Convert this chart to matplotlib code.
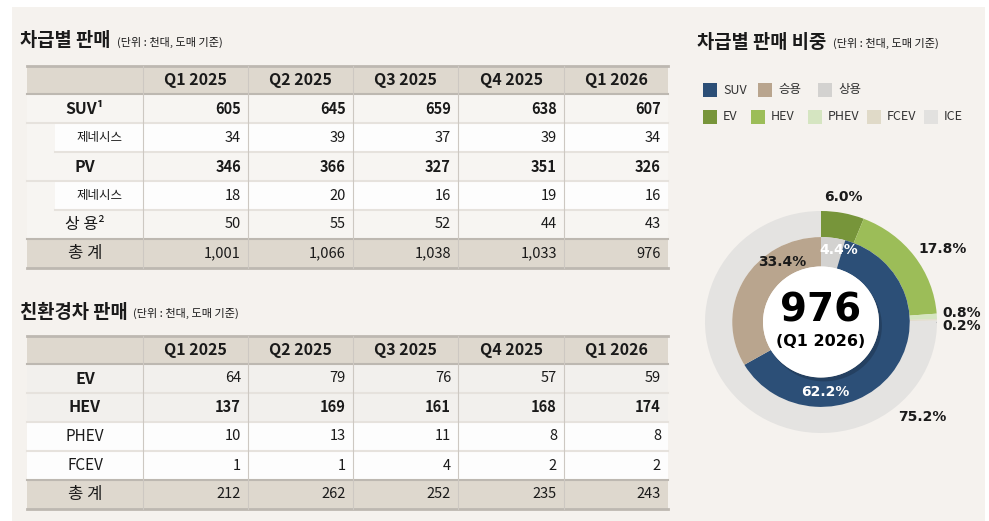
import matplotlib
matplotlib.use("Agg")
import matplotlib.pyplot as plt
from matplotlib.patches import Rectangle, Ellipse

plt.rcParams['font.family'] = ['Noto Sans CJK KR', 'DejaVu Sans']

# --- data ---
quarters = ["Q1 2025", "Q2 2025", "Q3 2025", "Q4 2025", "Q1 2026"]

seg_labels = ["SUV¹", "제네시스", "PV", "제네시스", "상 용²", "총 계"]
seg_suv = [605, 645, 659, 638, 607]
seg_suv_genesis = [34, 39, 37, 39, 34]
seg_pv = [346, 366, 327, 351, 326]
seg_pv_genesis = [18, 20, 16, 19, 16]
seg_cv = [50, 55, 52, 44, 43]
seg_total = [1001, 1066, 1038, 1033, 976]

eco_labels = ["EV", "HEV", "PHEV", "FCEV", "총 계"]
eco_ev = [64, 79, 76, 57, 59]
eco_hev = [137, 169, 161, 168, 174]
eco_phev = [10, 13, 11, 8, 8]
eco_fcev = [1, 1, 4, 2, 2]
eco_total = [212, 262, 252, 235, 243]

inner_labels = ["상용", "SUV", "승용"]
inner_share = [4.4, 62.2, 33.4]
outer_labels = ["EV", "HEV", "PHEV", "FCEV", "ICE"]
outer_share = [6.0, 17.8, 0.8, 0.2, 75.2]
center_value = "976"
center_period = "(Q1 2026)"

# --- styles ---
BG = "#f5f2ee"
HEAD = "#ded8ce"
LIGHT = "#f7f5f2"
WHITE = "#fdfdfd"
SEP = "#e6e2dd"
BORDER = "#bdb8b1"
VLINE = "#cdc8c2"
TXT = "#1a1a1a"
inner_colors = ["#d3d2d0", "#2c4f77", "#b9a58e"]
outer_colors = ["#77953a", "#9cbd58", "#d5e5c1", "#e0dac8", "#e4e3e1"]
legend_rows = [(["SUV", "승용", "상용"], ["#2c4f77", "#b9a58e", "#d3d2d0"], [703, 758, 818]),
               (["EV", "HEV", "PHEV", "FCEV", "ICE"], outer_colors[:4] + ["#e2e1df"],
                [703, 751, 808, 867, 924])]

COLS = [27, 143, 248, 353, 458, 564, 668]
W, H = 989, 521

fig = plt.figure(figsize=(W / 100, H / 100), dpi=100)
fig.patch.set_facecolor("white")
ax = fig.add_axes([0, 0, 1, 1])
ax.set_xlim(0, W); ax.set_ylim(H, 0); ax.axis("off")
ax.add_patch(Rectangle((12, 7), 973, H - 7, color=BG, lw=0))


def title(x, y, main, x_sub):
    ax.text(x, y, main, fontsize=13.5, fontweight="bold", color=TXT, va="center")
    ax.text(x_sub, y + 1, "(단위 : 천대, 도매 기준)", fontsize=8, color=TXT, va="center")


def table(top, labels, rows, fills, lw_label, lw_vals, lsize, indent):
    # header
    ax.add_patch(Rectangle((COLS[0], top), COLS[-1] - COLS[0], 28, color=HEAD, lw=0))
    for i, q in enumerate(quarters):
        ax.text((COLS[i + 1] + COLS[i + 2]) / 2, top + 14.5, q, fontsize=11.5, fontweight="bold",
                color=TXT, ha="center", va="center")
    y = top + 28
    rh = 29
    for k, (lab, vals) in enumerate(zip(labels, rows)):
        ax.add_patch(Rectangle((COLS[0], y), COLS[-1] - COLS[0], rh, color=fills[k], lw=0))
        x0 = COLS[0]
        if indent[k]:
            ax.add_patch(Rectangle((COLS[0], y), 28, rh, color=LIGHT, lw=0))
            x0 = COLS[0] + 28
        ax.text((x0 + COLS[1]) / 2, y + rh / 2, lab, fontsize=lsize[k], fontweight=lw_label[k],
                color=TXT, ha="center", va="center")
        for i, v in enumerate(vals):
            ax.text(COLS[i + 2] - 7, y + rh / 2, f"{v:,}", fontsize=10.5, fontweight=lw_vals[k],
                    color=TXT, ha="right", va="center")
        if k < len(labels) - 2:
            ax.plot([x0 if indent[k + 1] or indent[k] else COLS[0], COLS[-1]], [y + rh, y + rh],
                    color=SEP, lw=1.5)
        y += rh
    bottom = y
    # borders
    ax.plot([COLS[0], COLS[-1]], [top, top], color=BORDER, lw=2)
    ax.plot([COLS[0], COLS[-1]], [top + 28, top + 28], color=BORDER, lw=1.5)
    ax.plot([COLS[0], COLS[-1]], [bottom - rh, bottom - rh], color=BORDER, lw=1.5)
    ax.plot([COLS[0], COLS[-1]], [bottom, bottom], color=BORDER, lw=2)
    for x in COLS[1:-1]:
        ax.plot([x, x], [top, bottom], color=VLINE, lw=0.8)


title(20, 41, "차급별 판매", 117)
table(66, seg_labels,
      [seg_suv, seg_suv_genesis, seg_pv, seg_pv_genesis, seg_cv, seg_total],
      [LIGHT, WHITE, LIGHT, WHITE, LIGHT, HEAD],
      ["bold", "normal", "bold", "normal", "normal", "normal"],
      ["bold", "normal", "bold", "normal", "normal", "medium"],
      [11.5, 9, 11.5, 9, 11.5, 12],
      [False, True, False, True, False, False])

title(20, 312, "친환경차 판매", 133)
table(336, eco_labels,
      [eco_ev, eco_hev, eco_phev, eco_fcev, eco_total],
      ["#f2f0ed", "#f2f0ed", WHITE, WHITE, HEAD],
      ["bold", "bold", "normal", "normal", "normal"],
      ["normal", "bold", "normal", "normal", "normal"],
      [11.5, 11.5, 11, 11, 12],
      [False] * 5)

# --- right panel ---
title(697, 42, "차급별 판매 비중", 833)
for (labs, cols, xs), yc in zip(legend_rows, [90, 117]):
    for lab, c, x in zip(labs, cols, xs):
        ax.add_patch(Rectangle((x, yc - 7), 14, 14, color=c, lw=0))
        ax.text(x + 20, yc, lab, fontsize=9, color="#333333", va="center")

cx, cy, rx, ry = 821, 322, 116, 111
pax = fig.add_axes([(cx - rx) / W, 1 - (cy + ry) / H, 2 * rx / W, 2 * ry / H])
pax.pie(outer_share, colors=outer_colors, radius=1.0, startangle=90, counterclock=False,
        wedgeprops=dict(width=0.235, lw=0))
pax.pie(inner_share, colors=inner_colors, radius=0.765, startangle=90, counterclock=False,
        wedgeprops=dict(width=0.265, lw=0))
pax.set_aspect("auto"); pax.set_xlim(-1, 1); pax.set_ylim(-1, 1); pax.axis("off")
pax.add_patch(Ellipse((0.025, -0.035), 1.0, 1.0, color="#000000", alpha=0.18, lw=0))
pax.add_patch(Ellipse((0, 0), 1.0, 1.0, color="white", lw=0))
pax.text(0, 0.1, center_value, fontsize=28, fontweight="bold", color="black",
         ha="center", va="center", family="DejaVu Sans")
pax.text(0, -0.18, center_period, fontsize=11.5, fontweight="bold", color="black",
         ha="center", va="center", family="DejaVu Sans")

pct = dict(fontsize=10, fontweight="bold", ha="center", va="center", family="DejaVu Sans")
outer_pos = [(0.19, 1.13), (1.05, 0.66), (1.21, 0.08), (1.21, -0.04), (0.87, -0.86)]
for v, (x, y) in zip(outer_share, outer_pos):
    pax.text(x, y, f"{v:.1f}%", color="#1a1a1a", **pct)
pax.plot([1.0, 1.09], [-0.005, -0.04], color="#aaaaaa", lw=0.8)
inner_pos = [(0.15, 0.65), (0.04, -0.63), (-0.33, 0.54)]
inner_txt = ["white", "white", "#1a1a1a"]
for v, (x, y), c in zip(inner_share, inner_pos, inner_txt):
    pax.text(x, y, f"{v:.1f}%", color=c, **pct)

fig.savefig("out.png", dpi=100, facecolor="white")
